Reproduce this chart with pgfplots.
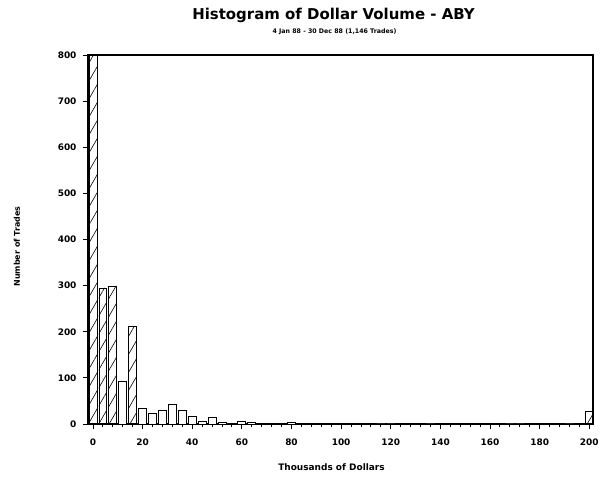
\documentclass[border=0pt]{standalone}
\usepackage{fontspec}
\setmainfont{DejaVu Sans}
\usepackage{pgfplots}
\pgfplotsset{compat=1.18}
\usetikzlibrary{patterns.meta}

% hatched bins
\pgfplotstableread{
x y
0 800
4 295
8 298
16 212
200 28
}\hatched
% open bins
\pgfplotstableread{
x y
12 93
20 34
24 22
28 30
32 43
36 30
40 17
44 5
48 14
52 3
56 2
60 5
64 3
68 1
72 2
76 2
80 4
84 1
88 1.5
92 1
96 1
100 1.5
104 1
108 2
112 1
116 0
120 0
124 1
128 1
132 1
136 0
140 1
144 2
148 1
152 1
156 2
160 2
164 1
168 0
172 0
176 1
180 1
184 1
188 1
192 0
196 1
}\open

\begin{document}
\begin{tikzpicture}
\begin{axis}[
  scale only axis, width=505bp, height=369bp,
  xmin=-2, xmax=201.5, ymin=0, ymax=800,
  axis line style={line width=1.1pt},
  xtick={0,20,...,200}, ytick={0,100,...,800},
  minor x tick num=4,
  tick align=outside, tick pos=left,
  major tick length=5bp, minor tick length=3bp,
  tick style={black, line width=0.9pt},
  ticklabel style={font=\bfseries\fontsize{9}{10}\selectfont},
  /pgf/number format/assume math mode=true,
  /pgf/number format/1000 sep={},
  xticklabel style={yshift=-6bp},
  yticklabel style={xshift=-3bp},
  clip=false,
]
\addplot[ybar, bar width=3.2, bar shift=0pt, draw=black, line width=0.8pt,
  pattern={Lines[angle=60,distance=9bp,line width=0.6pt]}] table[x=x,y=y] {\hatched};
\addplot[ybar, bar width=3.2, bar shift=0pt, draw=black, line width=0.8pt, fill=white] table[x=x,y=y] {\open};
\end{axis}
\node[font=\bfseries\fontsize{15}{17}\selectfont] at ([xshift=-7bp,yshift=40bp]current axis.north) {Histogram of Dollar Volume - ABY};
\node[font=\bfseries\fontsize{6.3}{7}\selectfont] at ([xshift=-6bp,yshift=23bp]current axis.north) {4 Jan 88 - 30 Dec 88 (1,146 Trades)};
\node[font=\bfseries\fontsize{8}{9}\selectfont, rotate=90] at ([xshift=-71bp,yshift=-7bp]current axis.west) {Number of Trades};
\node[font=\bfseries\fontsize{9}{10}\selectfont] at ([xshift=-9bp,yshift=-43bp]current axis.south) {Thousands of Dollars};
\path ([shift={(-88bp,-63bp)}]current axis.south west) rectangle ([shift={(18bp,55bp)}]current axis.north east);
\end{tikzpicture}
\end{document}
